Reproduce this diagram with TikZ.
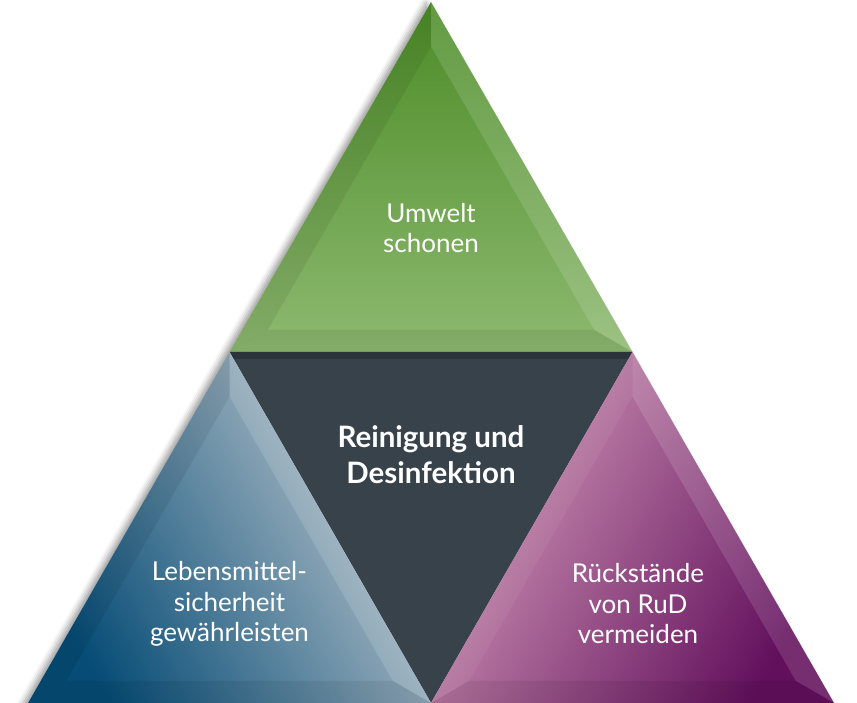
\documentclass[tikz,border=0pt]{standalone}
\usepackage{fontspec}
\setmainfont{Lato}
\usepackage{tikz}
\usetikzlibrary{calc}
\usetikzlibrary{shadows.blur}
\pgfdeclarelayer{edgelayer}
\pgfdeclarelayer{nodelayer}
\pgfsetlayers{edgelayer,nodelayer,main}
\definecolor{greentop}{HTML}{4C8C27}
\definecolor{greenbottom}{HTML}{8DB970}
\definecolor{bluedark}{HTML}{064C76}
\definecolor{bluemid}{HTML}{33617F}
\definecolor{bluelight}{HTML}{C2CAD0}
\definecolor{pinklight}{HTML}{D49CBA}
\definecolor{pinkmid}{HTML}{A04C84}
\definecolor{purpledark}{HTML}{620F5C}
\definecolor{hubgray}{HTML}{37424A}
\tikzstyle{none}=[inner sep=0pt]
\tikzstyle{facetext}=[text=white,align=center,font=\fontsize{26}{30.5}\selectfont]
\tikzstyle{hubtext}=[text=white,align=center,font=\bfseries\fontsize{29.5}{36}\selectfont]
\tikzstyle{lightfacet}=[fill=white,fill opacity=0.13]
\tikzstyle{softfacet}=[fill=white,fill opacity=0.05]
\tikzstyle{darkfacet}=[fill=black,fill opacity=0.07]

\begin{document}
\begin{tikzpicture}[x=1pt,y=1pt]
	\useasboundingbox (0,0) rectangle (857,703);
	\coordinate (A) at (431,701);
	\coordinate (ML) at (229.5,351);
	\coordinate (MR) at (632.5,351);
	\coordinate (L) at (28,0);
	\coordinate (B) at (431,0);
	\coordinate (R) at (834,0);
	\coordinate (cT) at (431,467.7);
	\coordinate (cL) at (229.5,117);
	\coordinate (cR) at (632.5,117);
	\begin{pgfonlayer}{edgelayer}
		% shadow of the whole pyramid
		\fill [white,blur shadow={shadow xshift=-5pt,shadow yshift=-1pt,shadow blur radius=6pt,shadow opacity=40}] (A) -- (L) -- (R) -- cycle;
		% top
		\shade [top color=greentop,bottom color=greenbottom] (A) -- (ML) -- (MR) -- cycle;
		\fill [style=darkfacet] (A) -- (ML) -- ($(cT)!0.81!(ML)$) -- ($(cT)!0.81!(A)$) -- cycle;
		\fill [style=lightfacet] (A) -- (MR) -- ($(cT)!0.81!(MR)$) -- ($(cT)!0.81!(A)$) -- cycle;
		\fill [style=darkfacet] (ML) -- (MR) -- ($(cT)!0.81!(MR)$) -- ($(cT)!0.81!(ML)$) -- cycle;
		% centre
		\fill [hubgray] (ML) -- (MR) -- (B) -- cycle;
		\fill [black,opacity=0.2] (ML) -- (MR) -- ($(MR)+(-4,-7)$) -- ($(ML)+(4,-7)$) -- cycle;
		% left
		\shade [bottom color=bluedark,middle color=bluemid,top color=bluelight,shading angle=-60] (ML) -- (L) -- (B) -- cycle;
		\fill [style=darkfacet] (ML) -- (L) -- ($(cL)!0.81!(L)$) -- ($(cL)!0.81!(ML)$) -- cycle;
		\fill [style=lightfacet] (ML) -- (B) -- ($(cL)!0.81!(B)$) -- ($(cL)!0.81!(ML)$) -- cycle;
		\fill [style=darkfacet] (L) -- (B) -- ($(cL)!0.81!(B)$) -- ($(cL)!0.81!(L)$) -- cycle;
		% right
		\shade [bottom color=purpledark,middle color=pinkmid,top color=pinklight,shading angle=60] (MR) -- (B) -- (R) -- cycle;
		\fill [style=softfacet] (MR) -- (B) -- ($(cR)!0.81!(B)$) -- ($(cR)!0.81!(MR)$) -- cycle;
		\fill [style=lightfacet] (MR) -- (R) -- ($(cR)!0.81!(R)$) -- ($(cR)!0.81!(MR)$) -- cycle;
		\fill [style=darkfacet] (B) -- (R) -- ($(cR)!0.81!(R)$) -- ($(cR)!0.81!(B)$) -- cycle;
	\end{pgfonlayer}
	\begin{pgfonlayer}{nodelayer}
		\node [style=facetext] (0) at (431,475) {Umwelt\\schonen};
		\node [style=hubtext] (1) at (431,248) {Reinigung und\\Desinfektion};
		\node [style=facetext] (2) at (229.5,99) {Lebensmittel-\\sicherheit\\gewährleisten};
		\node [style=facetext] (3) at (638,99) {Rückstände\\von RuD\\vermeiden};
	\end{pgfonlayer}
\end{tikzpicture}
\end{document}
